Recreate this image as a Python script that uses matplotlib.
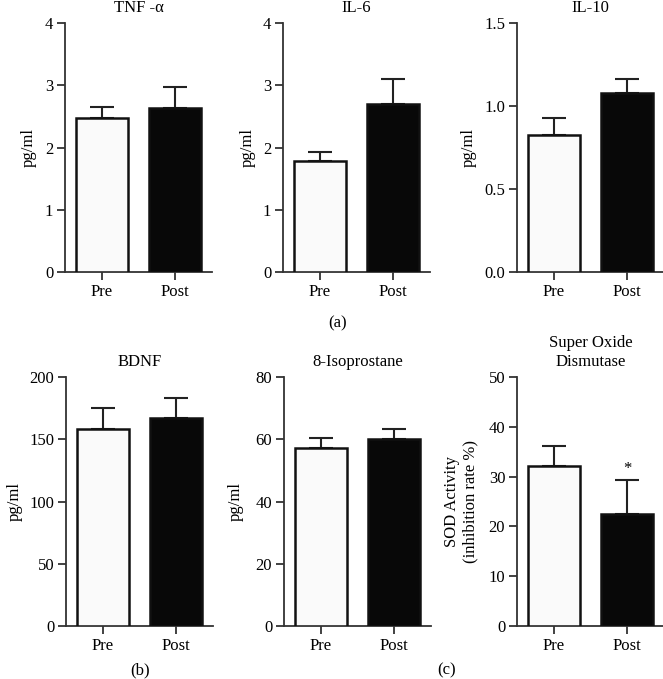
import matplotlib
matplotlib.use("Agg")
import matplotlib.pyplot as plt

plt.rcParams['font.family'] = ['Liberation Serif', 'DejaVu Serif']
plt.rcParams['font.size'] = 12

# data (mean, upper error bar)
groups = ["Pre", "Post"]
titles = ["TNF -α", "IL-6", "IL-10", "BDNF", "8-Isoprostane", "Super Oxide\nDismutase"]
ylabels = ["pg/ml", "pg/ml", "pg/ml", "pg/ml", "pg/ml", "SOD Activity\n(inhibition rate %)"]
tnf = [2.47, 2.63]
tnf_err = [0.18, 0.34]
il6 = [1.78, 2.70]
il6_err = [0.14, 0.40]
il10 = [0.825, 1.078]
il10_err = [0.10, 0.085]
bdnf = [158.5, 167.0]
bdnf_err = [17.0, 16.0]
iso = [57.2, 60.1]
iso_err = [3.2, 3.2]
sod = [32.1, 22.4]
sod_err = [4.0, 7.0]

means = [tnf, il6, il10, bdnf, iso, sod]
errs = [tnf_err, il6_err, il10_err, bdnf_err, iso_err, sod_err]
ymax = [4, 4, 1.5, 200, 80, 50]
ystep = [1, 1, 0.5, 50, 20, 10]
yfmt = ["%d", "%d", "%.1f", "%d", "%d", "%d"]

W, H = 663, 679
fig = plt.figure(figsize=(W / 100, H / 100), dpi=100)

# axes placement in pixels: left spine, top, bottom
lefts = [65, 283, 517, 66, 284, 517]
tops = [23, 23, 23, 377, 377, 377]
bottoms = [272, 272, 272, 626, 626, 626]
ylab_x = [-0.25, -0.24, -0.33, -0.35, -0.33, -0.38]
aw = 147
fs = 12

for i in range(6):
    l, t, b = lefts[i], tops[i], bottoms[i]
    ax = fig.add_axes([l / W, 1 - b / H, aw / W, (b - t) / H])
    x = [0, 1]
    ax.bar(x, means[i], width=0.7, color=["#fafafa", "#080808"],
           edgecolor="#111111", linewidth=1.8, zorder=3)
    ax.errorbar(x, means[i], yerr=[[0, 0], errs[i]], fmt="none",
                ecolor="#222222", elinewidth=1.5, capsize=8.5, capthick=1.5, zorder=2)
    ax.set_xlim(-0.507, 1.507)
    ax.set_ylim(0, ymax[i])
    n = int(round(ymax[i] / ystep[i]))
    ticks = [k * ystep[i] for k in range(n + 1)]
    ax.set_yticks(ticks)
    ax.set_yticklabels([yfmt[i] % v for v in ticks])
    ax.set_xticks(x)
    ax.set_xticklabels(groups)
    for s in ["top", "right"]:
        ax.spines[s].set_visible(False)
    for s in ["left", "bottom"]:
        ax.spines[s].set_linewidth(1.3)
        ax.spines[s].set_color("#333333")
    ax.tick_params(axis="both", direction="out", length=5.5, width=1.3,
                   color="#333333", labelsize=fs)
    ax.tick_params(axis="y", pad=3)
    ax.tick_params(axis="x", pad=3)
    ax.set_ylabel(ylabels[i], fontsize=fs, linespacing=1.15)
    ax.yaxis.set_label_coords(ylab_x[i], 0.5)
    ax.yaxis.label.set_va("center")
    ty = 1 + 15 / (b - t) if i != 5 else 1 + 24.5 / (b - t)
    ax.text(0.5, ty, titles[i], transform=ax.transAxes, ha="center",
            va="center", fontsize=fs, linespacing=1.25)
    if i == 5:
        ax.text(1, means[i][1] + errs[i][1] + 0.6, "*", ha="center",
                va="bottom", fontsize=fs)

fig.text(338 / W, 1 - 323 / H, "(a)", ha="center", va="center", fontsize=fs)
fig.text(140 / W, 1 - 670 / H, "(b)", ha="center", va="center", fontsize=fs)
fig.text(447 / W, 1 - 670 / H, "(c)", ha="center", va="center", fontsize=fs)

fig.savefig("out.png", dpi=100)
